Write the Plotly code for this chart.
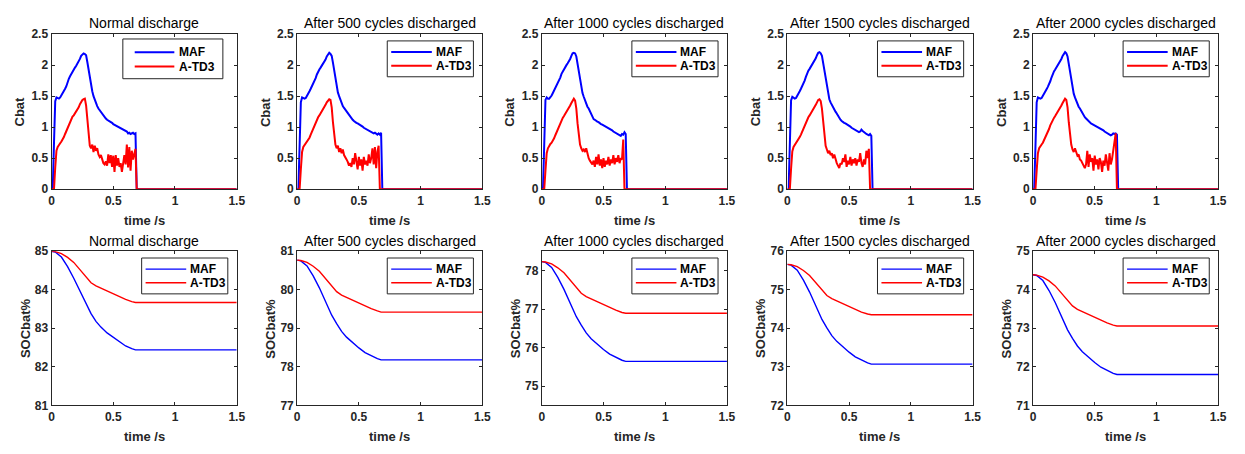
import plotly.graph_objects as go

# ---------------- data ----------------
titles = ["Normal discharge", "After 500 cycles discharged", "After 1000 cycles discharged",
          "After 1500 cycles discharged", "After 2000 cycles discharged"]
series_names = ["MAF", "A-TD3"]

t_cbat = [0.00, 0.01, 0.02, 0.03, 0.04, 0.05, 0.06, 0.07, 0.08, 0.09,
          0.10, 0.11, 0.12, 0.13, 0.14, 0.15, 0.16, 0.17, 0.18, 0.19,
          0.20, 0.21, 0.22, 0.23, 0.24, 0.25, 0.26, 0.27, 0.28, 0.29,
          0.30, 0.31, 0.32, 0.33, 0.34, 0.35, 0.36, 0.37, 0.38, 0.39,
          0.40, 0.41, 0.42, 0.43, 0.44, 0.45, 0.46, 0.47, 0.48, 0.49,
          0.50, 0.51, 0.52, 0.53, 0.54, 0.55, 0.56, 0.57, 0.58, 0.59,
          0.60, 0.61, 0.62, 0.63, 0.64, 0.65, 0.66, 0.67, 0.68, 0.69,
          0.70, 1.50]

cbat_maf_0 = [0, 0, 0.75, 1.42, 1.48, 1.47, 1.46, 1.48, 1.51, 1.54,
              1.58, 1.62, 1.66, 1.73, 1.78, 1.82, 1.86, 1.90, 1.93, 1.96,
              1.99, 2.02, 2.06, 2.10, 2.15, 2.18, 2.19, 2.18, 2.16, 2.05,
              1.92, 1.80, 1.68, 1.58, 1.50, 1.44, 1.39, 1.34, 1.30, 1.27,
              1.24, 1.21, 1.19, 1.16, 1.14, 1.12, 1.11, 1.10, 1.08, 1.07,
              1.05, 1.04, 1.03, 1.02, 1.01, 0.99, 0.98, 0.97, 0.96, 0.95,
              0.94, 0.93, 0.90, 0.91, 0.89, 0.90, 0.91, 0.89, 0.90, 0.00,
              0.00, 0.00]
cbat_atd3_0 = [0, 0, 0, 0.35, 0.62, 0.68, 0.72, 0.74, 0.77, 0.80,
               0.84, 0.89, 0.94, 0.99, 1.05, 1.10, 1.14, 1.17, 1.19, 1.22,
               1.25, 1.28, 1.32, 1.37, 1.41, 1.44, 1.45, 1.46, 1.35, 1.10,
               0.85, 0.70, 0.66, 0.72, 0.60, 0.70, 0.62, 0.66, 0.56, 0.52,
               0.55, 0.48, 0.42, 0.40, 0.45, 0.38, 0.56, 0.42, 0.55, 0.36,
               0.54, 0.28, 0.55, 0.38, 0.50, 0.36, 0.42, 0.28, 0.45, 0.55,
               0.40, 0.72, 0.35, 0.68, 0.30, 0.62, 0.48, 0.60, 0.65, 0.00,
               0.00, 0.00]

cbat_maf_500 = [0, 0, 0.70, 1.40, 1.48, 1.47, 1.46, 1.47, 1.50, 1.54,
                1.58, 1.62, 1.66, 1.70, 1.74, 1.79, 1.85, 1.90, 1.93, 1.96,
                1.99, 2.02, 2.05, 2.09, 2.14, 2.18, 2.20, 2.18, 2.15, 2.04,
                1.90, 1.78, 1.66, 1.56, 1.50, 1.44, 1.39, 1.34, 1.31, 1.28,
                1.25, 1.22, 1.20, 1.17, 1.15, 1.12, 1.10, 1.08, 1.07, 1.06,
                1.05, 1.04, 1.03, 1.01, 0.99, 0.98, 0.97, 0.96, 0.95, 0.94,
                0.92, 0.91, 0.90, 0.91, 0.89, 0.88, 0.90, 0.88, 0.91, 0.00,
                0.00, 0.00]
cbat_atd3_500 = [0, 0, 0, 0.32, 0.60, 0.68, 0.71, 0.74, 0.76, 0.79,
                 0.83, 0.88, 0.93, 0.99, 1.04, 1.09, 1.13, 1.16, 1.19, 1.22,
                 1.25, 1.28, 1.31, 1.36, 1.40, 1.43, 1.45, 1.44, 1.32, 1.08,
                 0.85, 0.72, 0.66, 0.70, 0.60, 0.66, 0.58, 0.64, 0.55, 0.50,
                 0.48, 0.44, 0.38, 0.42, 0.36, 0.50, 0.40, 0.58, 0.46, 0.32,
                 0.52, 0.38, 0.48, 0.30, 0.52, 0.40, 0.46, 0.38, 0.56, 0.42,
                 0.50, 0.66, 0.40, 0.68, 0.34, 0.60, 0.70, 0.00, 0.00, 0.00,
                 0.00, 0.00]

cbat_maf_1000 = [0, 0, 0.72, 1.44, 1.48, 1.46, 1.46, 1.48, 1.51, 1.55,
                 1.59, 1.63, 1.67, 1.71, 1.75, 1.80, 1.86, 1.90, 1.93, 1.96,
                 2.00, 2.03, 2.06, 2.10, 2.15, 2.19, 2.20, 2.19, 2.14, 2.02,
                 1.88, 1.76, 1.64, 1.55, 1.49, 1.43, 1.38, 1.33, 1.30, 1.26,
                 1.21, 1.16, 1.13, 1.12, 1.10, 1.09, 1.08, 1.06, 1.05, 1.04,
                 1.03, 1.01, 1.00, 0.99, 0.98, 0.97, 0.96, 0.95, 0.93, 0.92,
                 0.91, 0.90, 0.88, 0.87, 0.86, 0.89, 0.88, 0.92, 0.89, 0.00,
                 0.00, 0.00]
cbat_atd3_1000 = [0, 0, 0, 0.30, 0.58, 0.66, 0.70, 0.73, 0.75, 0.78,
                  0.82, 0.87, 0.92, 0.98, 1.03, 1.08, 1.12, 1.15, 1.18, 1.21,
                  1.24, 1.27, 1.30, 1.35, 1.39, 1.43, 1.46, 1.43, 1.30, 1.06,
                  0.84, 0.72, 0.66, 0.62, 0.64, 0.60, 0.66, 0.56, 0.50, 0.46,
                  0.42, 0.40, 0.46, 0.36, 0.52, 0.40, 0.56, 0.38, 0.48, 0.34,
                  0.50, 0.36, 0.46, 0.40, 0.52, 0.38, 0.48, 0.42, 0.55, 0.40,
                  0.50, 0.44, 0.55, 0.42, 0.50, 0.48, 0.80, 0.00, 0.00, 0.00,
                  0.00, 0.00]

cbat_maf_1500 = [0, 0, 0.72, 1.43, 1.49, 1.47, 1.46, 1.47, 1.50, 1.54,
                 1.58, 1.62, 1.66, 1.70, 1.75, 1.81, 1.87, 1.91, 1.94, 1.97,
                 2.00, 2.03, 2.07, 2.11, 2.16, 2.20, 2.21, 2.19, 2.15, 2.03,
                 1.88, 1.74, 1.62, 1.50, 1.45, 1.40, 1.36, 1.31, 1.28, 1.25,
                 1.22, 1.18, 1.14, 1.12, 1.10, 1.08, 1.07, 1.06, 1.05, 1.04,
                 1.02, 1.01, 0.99, 0.98, 0.97, 0.96, 0.95, 0.94, 0.92, 0.93,
                 0.96, 0.94, 0.92, 0.90, 0.89, 0.88, 0.87, 0.89, 0.86, 0.00,
                 0.00, 0.00]
cbat_atd3_1500 = [0, 0, 0, 0.33, 0.61, 0.68, 0.71, 0.73, 0.76, 0.80,
                  0.84, 0.88, 0.93, 0.98, 1.04, 1.09, 1.13, 1.16, 1.19, 1.22,
                  1.25, 1.28, 1.32, 1.36, 1.40, 1.44, 1.45, 1.42, 1.30, 1.05,
                  0.82, 0.70, 0.64, 0.58, 0.62, 0.55, 0.58, 0.50, 0.56, 0.48,
                  0.42, 0.38, 0.34, 0.42, 0.40, 0.50, 0.44, 0.56, 0.36, 0.46,
                  0.40, 0.52, 0.38, 0.48, 0.42, 0.50, 0.38, 0.48, 0.44, 0.58,
                  0.42, 0.36, 0.48, 0.40, 0.62, 0.50, 0.65, 0.00, 0.00, 0.00,
                  0.00, 0.00]

cbat_maf_2000 = [0, 0, 0.68, 1.40, 1.48, 1.47, 1.46, 1.47, 1.50, 1.53,
                 1.57, 1.61, 1.65, 1.69, 1.74, 1.80, 1.86, 1.90, 1.93, 1.96,
                 1.99, 2.02, 2.06, 2.10, 2.15, 2.19, 2.21, 2.19, 2.14, 2.02,
                 1.88, 1.76, 1.64, 1.54, 1.48, 1.42, 1.37, 1.33, 1.30, 1.26,
                 1.22, 1.19, 1.16, 1.14, 1.12, 1.09, 1.07, 1.06, 1.05, 1.04,
                 1.03, 1.02, 1.01, 1.00, 0.99, 0.98, 0.96, 0.95, 0.93, 0.92,
                 0.91, 0.90, 0.89, 0.87, 0.88, 0.90, 0.89, 0.90, 0.88, 0.00,
                 0.00, 0.00]
cbat_atd3_2000 = [0, 0, 0, 0.30, 0.58, 0.66, 0.70, 0.72, 0.75, 0.79,
                  0.83, 0.87, 0.92, 0.97, 1.03, 1.08, 1.12, 1.15, 1.18, 1.21,
                  1.24, 1.27, 1.31, 1.35, 1.39, 1.43, 1.46, 1.44, 1.32, 1.08,
                  0.86, 0.72, 0.64, 0.60, 0.66, 0.58, 0.54, 0.56, 0.48, 0.46,
                  0.42, 0.38, 0.34, 0.40, 0.62, 0.36, 0.56, 0.44, 0.50, 0.30,
                  0.54, 0.40, 0.48, 0.32, 0.50, 0.44, 0.28, 0.46, 0.38, 0.56,
                  0.44, 0.30, 0.58, 0.40, 0.48, 0.62, 0.72, 0.90, 0.00, 0.00,
                  0.00, 0.00]

t_soc = [0.00, 0.03, 0.08, 0.13, 0.18, 0.23, 0.28, 0.32, 0.36,
         0.40, 0.45, 0.50, 0.55, 0.60, 0.65, 0.68, 1.50]

soc_maf_0 = [85.00, 84.98, 84.85, 84.60, 84.30, 83.97, 83.60, 83.38, 83.18,
             83.03, 82.88, 82.76, 82.64, 82.54, 82.47, 82.44, 82.44]
soc_atd3_0 = [85.00, 84.99, 84.94, 84.84, 84.71, 84.53, 84.34, 84.18, 84.10,
              84.04, 83.97, 83.89, 83.82, 83.75, 83.69, 83.67, 83.67]
soc_maf_500 = [80.77, 80.75, 80.62, 80.36, 80.05, 79.71, 79.34, 79.12, 78.92,
               78.77, 78.62, 78.49, 78.37, 78.28, 78.21, 78.18, 78.18]
soc_atd3_500 = [80.77, 80.76, 80.71, 80.61, 80.48, 80.30, 80.11, 79.95, 79.86,
                79.80, 79.73, 79.65, 79.58, 79.51, 79.45, 79.42, 79.42]
soc_maf_1000 = [78.23, 78.21, 78.08, 77.82, 77.51, 77.17, 76.80, 76.58, 76.38,
                76.23, 76.08, 75.95, 75.83, 75.74, 75.67, 75.64, 75.64]
soc_atd3_1000 = [78.23, 78.22, 78.17, 78.07, 77.94, 77.76, 77.57, 77.41, 77.32,
                 77.26, 77.19, 77.11, 77.04, 76.97, 76.91, 76.89, 76.89]
soc_maf_1500 = [75.66, 75.64, 75.51, 75.25, 74.94, 74.60, 74.23, 74.01, 73.81,
                73.66, 73.51, 73.38, 73.26, 73.17, 73.10, 73.07, 73.07]
soc_atd3_1500 = [75.66, 75.65, 75.60, 75.50, 75.37, 75.19, 75.00, 74.85, 74.77,
                 74.71, 74.64, 74.56, 74.49, 74.42, 74.37, 74.35, 74.35]
soc_maf_2000 = [74.39, 74.37, 74.24, 73.98, 73.67, 73.33, 72.96, 72.74, 72.54,
                72.39, 72.24, 72.11, 71.99, 71.90, 71.83, 71.80, 71.80]
soc_atd3_2000 = [74.39, 74.38, 74.33, 74.23, 74.10, 73.92, 73.73, 73.58, 73.49,
                 73.43, 73.36, 73.28, 73.21, 73.14, 73.08, 73.06, 73.06]

soc_ranges = [[81, 85], [77, 81], [74.5, 78.5], [72, 76], [71, 75]]

cbat_maf = [cbat_maf_0, cbat_maf_500, cbat_maf_1000, cbat_maf_1500, cbat_maf_2000]
cbat_atd3 = [cbat_atd3_0, cbat_atd3_500, cbat_atd3_1000, cbat_atd3_1500, cbat_atd3_2000]
soc_maf = [soc_maf_0, soc_maf_500, soc_maf_1000, soc_maf_1500, soc_maf_2000]
soc_atd3 = [soc_atd3_0, soc_atd3_500, soc_atd3_1000, soc_atd3_1500, soc_atd3_2000]

# ---------------- layout geometry (pixels) ----------------
W, H = 1245, 454
col_left = [49, 297, 544, 792, 1040]
plot_w = 187
rows = [(28, 188), (252, 411)]  # (top, bottom) pixel for each row

FONT = "Arial, Liberation Sans, sans-serif"
AXC = "#262626"
BLUE = "#0000FF"
RED = "#FF0000"


def px_x(x):
    return x / W


def px_y(y):
    return 1 - y / H


fig = go.Figure()
layout = dict(width=W, height=H, margin=dict(l=0, r=0, t=0, b=0),
              paper_bgcolor="white", plot_bgcolor="white", showlegend=False,
              font=dict(family=FONT, color=AXC))
annotations = []
shapes = []

for r in range(2):
    top, bot = rows[r]
    for c in range(5):
        k = r * 5 + c + 1
        xa = "x" if k == 1 else f"x{k}"
        ya = "y" if k == 1 else f"y{k}"
        if r == 0:
            xs, ys = t_cbat, [cbat_maf[c], cbat_atd3[c]]
            lw = 2.0
            yrange = [0, 2.5]
            dtick = 0.5
            ylab = "Cbat"
            ylab_off = 32
        else:
            xs, ys = t_soc, [soc_maf[c], soc_atd3[c]]
            lw = 1.4
            yrange = soc_ranges[c]
            dtick = 1
            ylab = "SOCbat%"
            ylab_off = 27
        for name, yv, col in zip(series_names, ys, [BLUE, RED]):
            fig.add_trace(go.Scatter(x=xs, y=yv, mode="lines", name=name,
                                     line=dict(color=col, width=lw),
                                     xaxis=xa, yaxis=ya, showlegend=False,
                                     hoverinfo="skip"))
        left = col_left[c]
        right = left + plot_w
        axkey = "xaxis" if k == 1 else f"xaxis{k}"
        aykey = "yaxis" if k == 1 else f"yaxis{k}"
        common = dict(showline=True, mirror="ticks", linecolor=AXC, linewidth=1,
                      ticks="inside", ticklen=3, tickcolor=AXC, showgrid=False,
                      zeroline=False, fixedrange=True,
                      tickfont=dict(family=FONT, size=12, color=AXC, weight="bold"))
        layout[axkey] = dict(domain=[px_x(left), px_x(right)], range=[0, 1.5],
                             tick0=0, dtick=0.5, anchor=ya, **common)
        layout[aykey] = dict(domain=[px_y(bot), px_y(top)], range=yrange,
                             tick0=0, dtick=dtick, anchor=xa, **common)
        cx = (left + right) / 2
        # subplot title
        annotations.append(dict(text=titles[c], x=px_x(cx), y=px_y(top - 11),
                                xref="paper", yref="paper", showarrow=False,
                                xanchor="center", yanchor="middle",
                                font=dict(family=FONT, size=14, color="#000000")))
        # x label
        annotations.append(dict(text="<b>time /s</b>", x=px_x(cx), y=px_y(bot + 32),
                                xref="paper", yref="paper", showarrow=False,
                                xanchor="center", yanchor="middle",
                                font=dict(family=FONT, size=13, color=AXC)))
        # y label
        annotations.append(dict(text=f"<b>{ylab}</b>", x=px_x(left - ylab_off),
                                y=px_y((top + bot) / 2), textangle=-90,
                                xref="paper", yref="paper", showarrow=False,
                                xanchor="center", yanchor="middle",
                                font=dict(family=FONT, size=13, color=AXC)))
        # legend box (drawn manually to match the compact MATLAB legend)
        if k == 1:
            bx0, bx1, by0, by1 = left + 72, left + 173, top + 5, top + 46
            lx0, lx1, tx = left + 84, left + 124, left + 127
            ey = [top + 18.7, top + 33.5]
        else:
            bx0, bx1, by0, by1 = left + 91, left + 178, top + 7, top + 44
            lx0, lx1, tx = left + 95, left + 136, left + 138
            ey = [top + 18.5, top + 32.5]
        shapes.append(dict(type="rect", xref="paper", yref="paper",
                           x0=px_x(bx0), x1=px_x(bx1), y0=px_y(by1), y1=px_y(by0),
                           line=dict(color=AXC, width=1), fillcolor="white", layer="above"))
        for name, col, yy in zip(series_names, [BLUE, RED], ey):
            shapes.append(dict(type="line", xref="paper", yref="paper",
                               x0=px_x(lx0), x1=px_x(lx1), y0=px_y(yy), y1=px_y(yy),
                               line=dict(color=col, width=lw), layer="above"))
            annotations.append(dict(text=f"<b>{name}</b>", x=px_x(tx), y=px_y(yy),
                                    xref="paper", yref="paper", showarrow=False,
                                    xanchor="left", yanchor="middle",
                                    font=dict(family=FONT, size=12, color="#000000")))

layout["annotations"] = annotations
layout["shapes"] = shapes
fig.update_layout(**layout)
fig.write_html("out.html",
               config={"displayModeBar": False, "staticPlot": True},
               post_script="document.body.style.margin='0px';document.body.style.padding='0px';"
                           "document.body.style.overflow='hidden';")
